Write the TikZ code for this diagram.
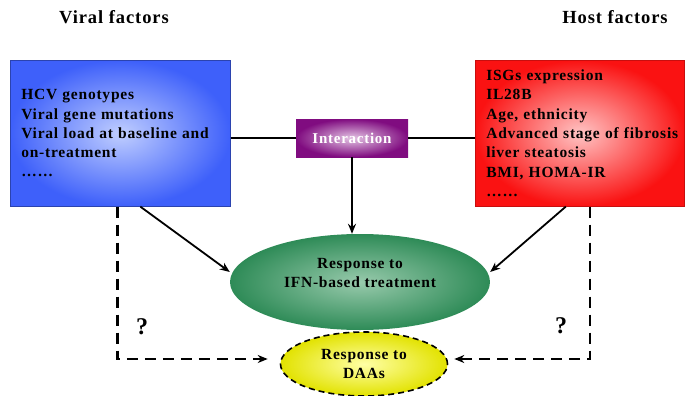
\documentclass[tikz,border=0pt]{standalone}
\usepackage{fontspec}
\setmainfont{Liberation Serif}[LetterSpace=5]
\usetikzlibrary{shapes.geometric,arrows.meta}

\definecolor{viralout}{RGB}{62,96,250}
\definecolor{viralin}{RGB}{192,206,255}
\definecolor{hostout}{RGB}{250,18,18}
\definecolor{hostin}{RGB}{255,196,196}
\definecolor{interout}{RGB}{128,12,128}
\definecolor{interin}{RGB}{228,196,228}
\definecolor{ifnout}{RGB}{46,139,87}
\definecolor{ifnin}{RGB}{152,202,172}
\definecolor{daaout}{RGB}{226,226,0}
\definecolor{daain}{RGB}{255,255,165}

\begin{document}
\begin{tikzpicture}[
  x=1pt, y=-1pt,
  title/.style={font=\fontsize{18.5}{21}\selectfont\bfseries},
  factorbox/.style={rectangle, draw, line width=0.6pt, minimum height=146pt,
    inner xsep=11pt, align=left, anchor=north west,
    font=\fontsize{15.5}{19.3}\selectfont\bfseries},
  oval/.style={ellipse, inner sep=0pt, align=center,
    font=\fontsize{15.5}{19}\selectfont\bfseries},
  link/.style={line width=1.3pt},
  solidarrow/.style={line width=1.8pt, -{Stealth[length=10pt,width=8pt]}},
  dasharrow/.style={line width=2.4pt, dash pattern=on 11pt off 7pt,
    -{Stealth[length=10pt,width=8pt]}}
]
\useasboundingbox (0,0) rectangle (685,396);

\node[title] (viraltitle) at (114,17) {Viral factors};
\node[title] (hosttitle) at (615,17) {Host factors};

\node[factorbox, draw=viralout!70!black, shading=radial, inner color=viralin,
  outer color=viralout, text width=198pt] (viral) at (10,60)
  {HCV genotypes\\Viral gene mutations\\\mbox{Viral load at baseline and}\\on-treatment\\\ldots\ldots};

\node[factorbox, draw=hostout!80!black, shading=radial, inner color=hostin,
  outer color=hostout, text width=187pt] (host) at (475,60)
  {ISGs expression\\IL28B\\Age, ethnicity\\\mbox{Advanced stage of fibrosis}\\liver steatosis\\BMI, HOMA-IR\\\ldots\ldots};

\node[rectangle, shading=radial, inner color=interin, outer color=interout,
  minimum width=112pt, minimum height=38pt, text=white,
  font=\fontsize{15}{17}\selectfont\bfseries] (inter) at (352,138) {Interaction};

\node[oval, shading=radial, inner color=ifnin, outer color=ifnout,
  minimum width=260pt, minimum height=96pt] (ifn) at (360,282)
  {Response to\\IFN-based treatment\\[0pt]\mbox{}};

\node[oval, draw, line width=1.6pt, dash pattern=on 6pt off 4pt,
  shading=radial, inner color=daain, outer color=daaout,
  minimum width=167pt, minimum height=64pt] (daa) at (364,364)
  {Response to\\DAAs};

\node[font=\fontsize{24}{26}\selectfont\bfseries] (qleft) at (142,327) {?};
\node[font=\fontsize{24}{26}\selectfont\bfseries] (qright) at (561,326) {?};

% links around the interaction box
\draw[link] (viral.east |- inter.west) -- (inter.west);
\draw[link] (inter.east) -- (host.west |- inter.east);
\draw[solidarrow] (inter.south) -- (inter.south |- ifn.north);

% factors to IFN response
\draw[solidarrow] ([xshift=20pt]viral.south) -- ([yshift=10pt]ifn.west);
\draw[solidarrow] ([xshift=-14pt]host.south) -- ([yshift=10pt]ifn.east);

% factors to DAA response
\draw[dasharrow] ([xshift=-3pt]viral.south) |- ([xshift=-12pt,yshift=5pt]daa.west);
\draw[dasharrow] ([xshift=10pt]host.south) |- ([xshift=6pt,yshift=5pt]daa.east);
\end{tikzpicture}
\end{document}
